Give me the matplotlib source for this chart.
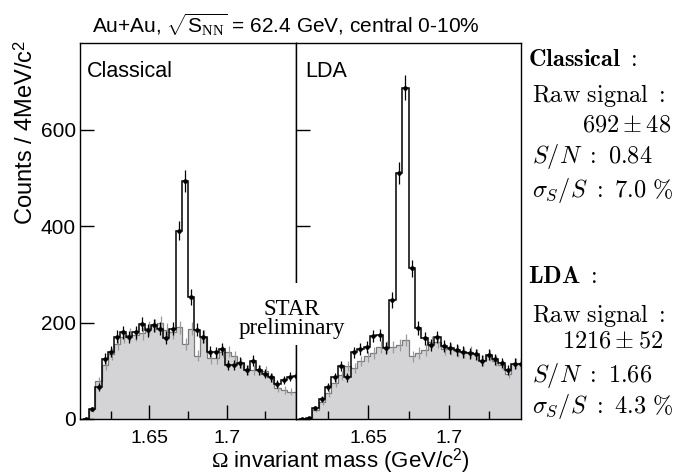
import matplotlib
matplotlib.use("Agg")
import matplotlib.pyplot as plt
import numpy as np

plt.rcParams['font.family'] = ['Liberation Sans', 'DejaVu Sans']
plt.rcParams['mathtext.fontset'] = 'custom'
plt.rcParams['mathtext.rm'] = 'Liberation Serif'
plt.rcParams['mathtext.sf'] = 'Liberation Sans'
plt.rcParams['mathtext.it'] = 'Liberation Serif:italic'

# bin left edges start at 1.607, 4 MeV bins
bin_start = 1.607
bin_width = 0.004

# Classical PID: data and mixed-event background
classical_data = [0, 21, 67, 125, 140, 171, 180, 170, 180, 197, 184, 194, 187, 169, 187, 391, 494, 253,
                  185, 171, 140, 138, 145, 112, 112, 117, 102, 121, 102, 94, 87, 72, 81, 88, 89]
classical_bg = [0, 20, 78, 112, 135, 156, 171, 175, 175, 178, 189, 194, 199, 185, 180, 190, 155, 187,
                131, 171, 126, 126, 140, 140, 130, 116, 102, 102, 101, 99, 87, 64, 60, 57, 57]

# LDA PID
lda_data = [0, 3, 23, 42, 66, 87, 109, 87, 138, 145, 150, 172, 174, 147, 247, 510, 687, 313,
            189, 167, 154, 170, 151, 148, 143, 139, 136, 134, 121, 133, 124, 116, 102, 115, 115]
lda_bg = [0, 1, 18, 36, 53, 74, 91, 110, 105, 120, 130, 137, 150, 150, 150, 154, 164, 130,
          137, 143, 160, 160, 145, 145, 141, 138, 139, 134, 122, 132, 121, 112, 94, 115, 116]

panel_names = ['Classical', 'LDA']
x_major = [1.65, 1.7]
x_minor = [1.625, 1.675, 1.725]
y_ticks = [0, 200, 400, 600]

W, H = 691, 474
fig = plt.figure(figsize=(W / 100, H / 100), dpi=100)
ax1 = fig.add_axes([80 / W, 1 - 419 / H, 216 / W, 376 / H])
ax2 = fig.add_axes([296 / W, 1 - 419 / H, 225 / W, 376 / H])

gray_fill = '#d4d4d6'

for ax, name, data, bg in [(ax1, panel_names[0], classical_data, classical_bg),
                           (ax2, panel_names[1], lda_data, lda_bg)]:
    data = np.array(data, dtype=float)
    bg = np.array(bg, dtype=float)
    edges = bin_start + bin_width * np.arange(len(data) + 1)
    centers = 0.5 * (edges[:-1] + edges[1:])

    ax.stairs(bg, edges, fill=True, color=gray_fill, lw=0)
    ax.stairs(bg, edges, color='#7a7a7a', lw=0.9)
    ax.errorbar(centers + 0.0006, bg, yerr=np.sqrt(bg), fmt='none', ecolor='#9a9a9a', elinewidth=0.9)
    ax.stairs(data, edges, color='black', lw=1.1)
    ax.errorbar(centers, data, yerr=np.sqrt(data), fmt='o', color='black', ms=2.3,
                elinewidth=0.9, capsize=0)

    ax.set_xlim(1.605, 1.745)
    ax.set_ylim(0, 780)
    ax.set_xticks(x_major)
    ax.set_xticklabels(['1.65', '1.7'])
    ax.set_xticks(x_minor, minor=True)
    ax.set_yticks(y_ticks)
    ax.tick_params(direction='in', length=10, width=1, top=False, right=False,
                   labelsize=15, pad=3)
    ax.tick_params(axis='x', which='minor', direction='in', length=6, width=1, top=False)
    ax.tick_params(axis='x', labelsize=14, pad=8)
    for s in ax.spines.values():
        s.set_linewidth(1.0)
    ax.text(0.03 if ax is ax1 else 0.04, 0.91, name, transform=ax.transAxes, fontsize=15.5,
            ha='left', va='baseline')

ax2.tick_params(axis='y', labelleft=False)

# STAR preliminary over the divider, on a white patch
fig.patches.append(plt.Rectangle((236 / W, 1 - 345 / H), 112 / W, 62 / H, transform=fig.transFigure,
                                 facecolor='white', edgecolor='none', zorder=5))
fig.text(292 / W, 1 - 315 / H, 'STAR', fontsize=16.5, family='Liberation Serif',
         ha='center', va='baseline', zorder=10)
fig.text(292 / W, 1 - 334 / H, 'preliminary', fontsize=16.5, family='Liberation Serif',
         ha='center', va='baseline', zorder=10)

# labels
fig.text(92 / W, 1 - 33 / H, r'Au+Au, $\sqrt{\mathsf{S}_{\mathrm{NN}}}$ = 62.4 GeV, central 0-10%',
         fontsize=15, ha='left', va='baseline')
fig.text(26 / W, 1 - 132 / H, r'Counts / 4MeV/c$^{\mathsf{2}}$', fontsize=17, rotation=90,
         ha='center', va='center')
fig.text(340 / W, 1 - 467 / H, r'$\Omega$ invariant mass (GeV/c$^{\mathsf{2}}$)', fontsize=16,
         ha='center', va='baseline')

# fit results
rows = [
    (528, 66, r'$\mathbf{Classical\ :}$'),
    (532, 102, r'$\mathrm{Raw\ signal\ :}$'),
    (582, 131, r'$692 \pm 48$'),
    (532, 163, r'$S/N\ :\ 0.84$'),
    (532, 197, r'$\sigma_S/S\ :\ 7.0\ \%$'),
    (528, 283, r'$\mathbf{LDA\ :}$'),
    (532, 322, r'$\mathrm{Raw\ signal\ :}$'),
    (562, 348, r'$1216 \pm 52$'),
    (532, 382, r'$S/N\ :\ 1.66$'),
    (532, 413, r'$\sigma_S/S\ :\ 4.3\ \%$'),
]
for x, y, s in rows:
    fig.text(x / W, 1 - y / H, s, fontsize=17.5, math_fontfamily='cm', ha='left', va='baseline')

fig.savefig('out.png', dpi=100)
